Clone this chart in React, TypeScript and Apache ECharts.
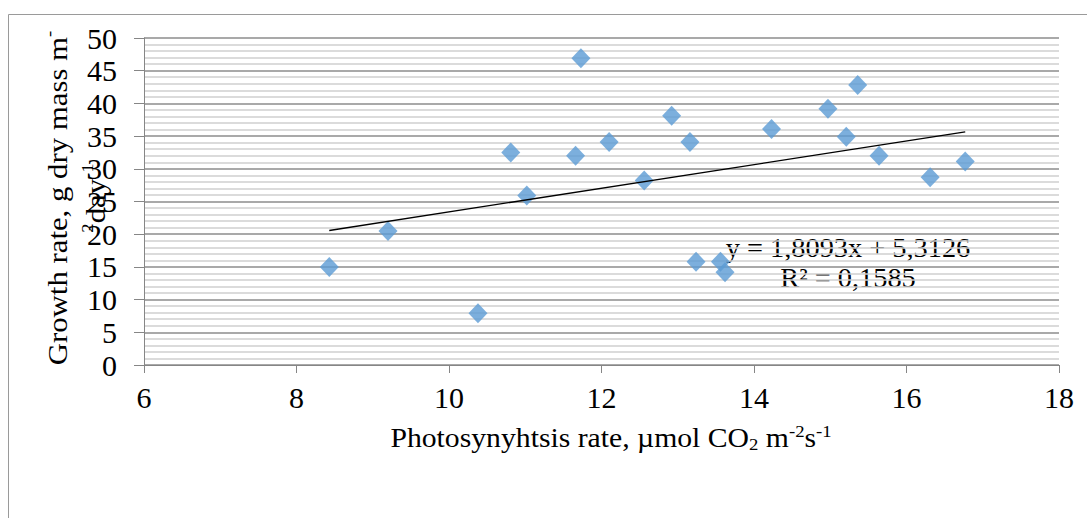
import React, { useEffect, useRef } from "react";
import * as echarts from "echarts";

// Photosynthesis rate (x) and growth rate (y)
const photosynthesis = [8.43, 9.2, 10.38, 10.81, 11.02, 11.66, 11.73, 12.1, 12.56, 12.92, 13.16, 13.24, 13.56, 13.62, 14.23, 14.97, 15.21, 15.36, 15.64, 16.31, 16.77];
const growth = [15.0, 20.5, 7.9, 32.5, 25.9, 32.0, 46.9, 34.1, 28.2, 38.1, 34.1, 15.8, 15.8, 14.2, 36.1, 39.2, 34.9, 42.8, 32.0, 28.7, 31.1];

// Linear trendline as reported on the chart
const trendSlope = 1.8093;
const trendIntercept = 5.3126;
const trendLabel = ["y = 1,8093x + 5,3126", "R² = 0,1585"];

const xTicks = { min: 6, max: 18, interval: 2 };
const yTicks = { min: 0, max: 50, interval: 5 };

const FONT = "'Liberation Serif', 'Times New Roman', serif";

export default function App() {
  const ref = useRef<HTMLDivElement>(null);
  useEffect(() => {
    if (!ref.current) return;
    const chart = echarts.init(ref.current, null, { renderer: "svg" });
    const xMin = Math.min(...photosynthesis);
    const xMax = Math.max(...photosynthesis);
    const points = photosynthesis.map((x, i) => [x, growth[i]]);
    const trend = [
      [xMin, trendSlope * xMin + trendIntercept],
      [xMax, trendSlope * xMax + trendIntercept],
    ];
    chart.setOption({
      animation: false,
      backgroundColor: "#ffffff",
      grid: { left: 144, right: 28, top: 38, bottom: 153, outerBoundsMode: "none" },
      xAxis: {
        type: "value",
        min: xTicks.min,
        max: xTicks.max,
        interval: xTicks.interval,
        axisLine: { show: true, lineStyle: { color: "#868686", width: 1 } },
        axisTick: { show: true, length: 8, lineStyle: { color: "#868686" } },
        splitLine: { show: false },
        axisLabel: { color: "#000", fontFamily: FONT, fontSize: 30, margin: 17 },
      },
      yAxis: {
        type: "value",
        min: yTicks.min,
        max: yTicks.max,
        interval: yTicks.interval,
        axisLine: { show: true, lineStyle: { color: "#868686", width: 1 } },
        axisTick: { show: true, length: 10, lineStyle: { color: "#868686" } },
        minorTick: { show: false, splitNumber: 5 },
        splitLine: { show: true, lineStyle: { color: "#8c8c8c", width: 1.5 } },
        minorSplitLine: { show: true, lineStyle: { color: "#cfcfcf", width: 1.5 } },
        axisLabel: { color: "#000", fontFamily: FONT, fontSize: 30, margin: 27 },
      },
      series: [
        {
          type: "scatter",
          data: points,
          symbol: "diamond",
          symbolSize: [19, 20],
          itemStyle: { color: "#5b9bd5" },
          z: 3,
        },
        {
          type: "line",
          data: trend,
          symbol: "none",
          lineStyle: { color: "#000", width: 1.3 },
          z: 4,
        },
      ],
      graphic: [
        {
          type: "rect",
          shape: { x: 8.5, y: 14.5, width: 1200, height: 700 },
          style: { fill: "none", stroke: "#9a9a9a", lineWidth: 1 },
          silent: true,
        },
        {
          type: "text",
          x: 76,
          y: 198,
          rotation: Math.PI / 2,
          scaleX: 1.1,
          style: {
            text: "{a|Growth rate, g dry mass m}{s|-}\n{s|2}{a|day}{s|-1}",
            align: "center",
            verticalAlign: "middle",
            fill: "#000",
            rich: {
              a: { fontFamily: FONT, fontSize: 28, lineHeight: 38, fill: "#000" },
              s: { fontFamily: FONT, fontSize: 17, lineHeight: 38, padding: [0, 0, 16, 0], fill: "#000" },
            },
          },
        },
        {
          type: "text",
          x: 611,
          y: 438,
          scaleX: 1.1,
          style: {
            text: "{a|Photosynyhtsis rate, µmol CO}{b|2}{a| m}{s|-2}{a|s}{s|-1}",
            align: "center",
            verticalAlign: "middle",
            fill: "#000",
            rich: {
              a: { fontFamily: FONT, fontSize: 27, lineHeight: 34, fill: "#000" },
              b: { fontFamily: FONT, fontSize: 17, lineHeight: 34, padding: [12, 0, 0, 0], fill: "#000" },
              s: { fontFamily: FONT, fontSize: 17, lineHeight: 34, padding: [0, 0, 14, 0], fill: "#000" },
            },
          },
        },
        {
          type: "text",
          x: 848,
          y: 263,
          scaleX: 1.05,
          style: {
            text: trendLabel.join("\n"),
            align: "center",
            verticalAlign: "middle",
            fontFamily: FONT,
            fontSize: 27,
            lineHeight: 30,
            fill: "#000",
          },
        },
      ],
    });
    return () => chart.dispose();
  }, []);
  return (
    <div
      ref={ref}
      style={{ position: "fixed", left: 0, top: 0, width: 1087, height: 518 }}
    />
  );
}
